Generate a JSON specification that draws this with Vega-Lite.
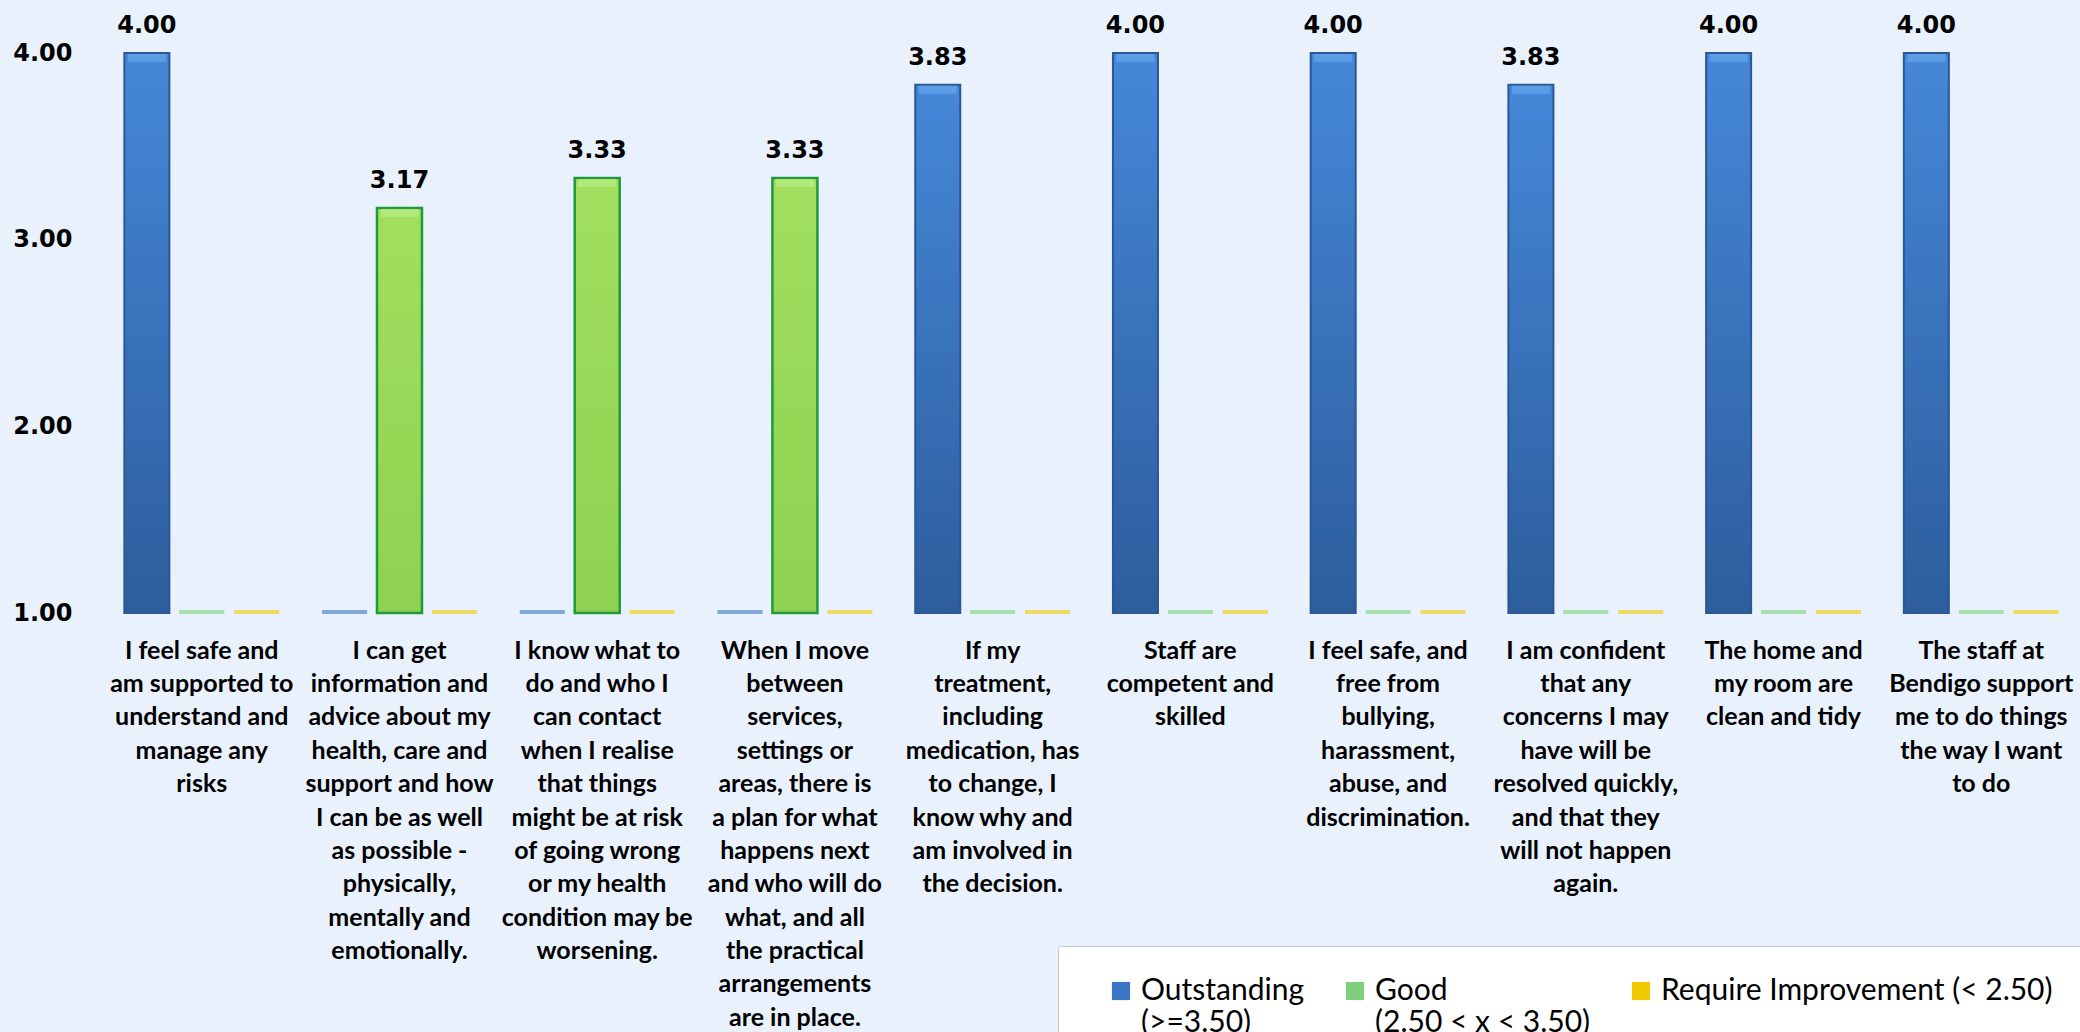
{
  "$schema": "https://vega.github.io/schema/vega-lite/v6.json",
  "width": 1977,
  "height": 560,
  "autosize": {"type": "none"},
  "padding": {"left": 103, "top": 53, "right": 0, "bottom": 419},
  "background": "#E9F2FC",
  "config": {"view": {"stroke": null}, "font": "Lato"},
  "data": {
    "values": [
      {"item": "I feel safe and\nam supported to\nunderstand and\nmanage any\nrisks", "series": "Outstanding (>=3.50)", "score": 4.00},
      {"item": "I feel safe and\nam supported to\nunderstand and\nmanage any\nrisks", "series": "Good (2.50 < x < 3.50)", "score": 0},
      {"item": "I feel safe and\nam supported to\nunderstand and\nmanage any\nrisks", "series": "Require Improvement (< 2.50)", "score": 0},
      {"item": "I can get\ninformation and\nadvice about my\nhealth, care and\nsupport and how\nI can be as well\nas possible -\nphysically,\nmentally and\nemotionally.", "series": "Outstanding (>=3.50)", "score": 0},
      {"item": "I can get\ninformation and\nadvice about my\nhealth, care and\nsupport and how\nI can be as well\nas possible -\nphysically,\nmentally and\nemotionally.", "series": "Good (2.50 < x < 3.50)", "score": 3.17},
      {"item": "I can get\ninformation and\nadvice about my\nhealth, care and\nsupport and how\nI can be as well\nas possible -\nphysically,\nmentally and\nemotionally.", "series": "Require Improvement (< 2.50)", "score": 0},
      {"item": "I know what to\ndo and who I\ncan contact\nwhen I realise\nthat things\nmight be at risk\nof going wrong\nor my health\ncondition may be\nworsening.", "series": "Outstanding (>=3.50)", "score": 0},
      {"item": "I know what to\ndo and who I\ncan contact\nwhen I realise\nthat things\nmight be at risk\nof going wrong\nor my health\ncondition may be\nworsening.", "series": "Good (2.50 < x < 3.50)", "score": 3.33},
      {"item": "I know what to\ndo and who I\ncan contact\nwhen I realise\nthat things\nmight be at risk\nof going wrong\nor my health\ncondition may be\nworsening.", "series": "Require Improvement (< 2.50)", "score": 0},
      {"item": "When I move\nbetween\nservices,\nsettings or\nareas, there is\na plan for what\nhappens next\nand who will do\nwhat, and all\nthe practical\narrangements\nare in place.", "series": "Outstanding (>=3.50)", "score": 0},
      {"item": "When I move\nbetween\nservices,\nsettings or\nareas, there is\na plan for what\nhappens next\nand who will do\nwhat, and all\nthe practical\narrangements\nare in place.", "series": "Good (2.50 < x < 3.50)", "score": 3.33},
      {"item": "When I move\nbetween\nservices,\nsettings or\nareas, there is\na plan for what\nhappens next\nand who will do\nwhat, and all\nthe practical\narrangements\nare in place.", "series": "Require Improvement (< 2.50)", "score": 0},
      {"item": "If my\ntreatment,\nincluding\nmedication, has\nto change, I\nknow why and\nam involved in\nthe decision.", "series": "Outstanding (>=3.50)", "score": 3.83},
      {"item": "If my\ntreatment,\nincluding\nmedication, has\nto change, I\nknow why and\nam involved in\nthe decision.", "series": "Good (2.50 < x < 3.50)", "score": 0},
      {"item": "If my\ntreatment,\nincluding\nmedication, has\nto change, I\nknow why and\nam involved in\nthe decision.", "series": "Require Improvement (< 2.50)", "score": 0},
      {"item": "Staff are\ncompetent and\nskilled", "series": "Outstanding (>=3.50)", "score": 4.00},
      {"item": "Staff are\ncompetent and\nskilled", "series": "Good (2.50 < x < 3.50)", "score": 0},
      {"item": "Staff are\ncompetent and\nskilled", "series": "Require Improvement (< 2.50)", "score": 0},
      {"item": "I feel safe, and\nfree from\nbullying,\nharassment,\nabuse, and\ndiscrimination.", "series": "Outstanding (>=3.50)", "score": 4.00},
      {"item": "I feel safe, and\nfree from\nbullying,\nharassment,\nabuse, and\ndiscrimination.", "series": "Good (2.50 < x < 3.50)", "score": 0},
      {"item": "I feel safe, and\nfree from\nbullying,\nharassment,\nabuse, and\ndiscrimination.", "series": "Require Improvement (< 2.50)", "score": 0},
      {"item": "I am confident\nthat any\nconcerns I may\nhave will be\nresolved quickly,\nand that they\nwill not happen\nagain.", "series": "Outstanding (>=3.50)", "score": 3.83},
      {"item": "I am confident\nthat any\nconcerns I may\nhave will be\nresolved quickly,\nand that they\nwill not happen\nagain.", "series": "Good (2.50 < x < 3.50)", "score": 0},
      {"item": "I am confident\nthat any\nconcerns I may\nhave will be\nresolved quickly,\nand that they\nwill not happen\nagain.", "series": "Require Improvement (< 2.50)", "score": 0},
      {"item": "The home and\nmy room are\nclean and tidy", "series": "Outstanding (>=3.50)", "score": 4.00},
      {"item": "The home and\nmy room are\nclean and tidy", "series": "Good (2.50 < x < 3.50)", "score": 0},
      {"item": "The home and\nmy room are\nclean and tidy", "series": "Require Improvement (< 2.50)", "score": 0},
      {"item": "The staff at\nBendigo support\nme to do things\nthe way I want\nto do", "series": "Outstanding (>=3.50)", "score": 4.00},
      {"item": "The staff at\nBendigo support\nme to do things\nthe way I want\nto do", "series": "Good (2.50 < x < 3.50)", "score": 0},
      {"item": "The staff at\nBendigo support\nme to do things\nthe way I want\nto do", "series": "Require Improvement (< 2.50)", "score": 0}
    ]
  },
  "encoding": {
    "x": {
      "field": "item",
      "type": "nominal",
      "sort": null,
      "scale": {"paddingInner": 0.167, "paddingOuter": 0.083},
      "axis": {
        "title": null,
        "labelExpr": "split(datum.label, '\\n')",
        "labelAngle": 0,
        "labelFont": "Lato",
        "labelFontSize": 25,
        "labelFontWeight": "bold",
        "labelColor": "#000000",
        "labelLimit": 0,
        "labelOverlap": false,
        "labelBound": false,
        "labelPadding": 25,
        "labelLineHeight": 33.4,
        "labelBaseline": "top",
        "domain": false,
        "ticks": false,
        "grid": false
      }
    },
    "xOffset": {
      "field": "series",
      "type": "nominal",
      "sort": null,
      "scale": {
        "domain": ["Outstanding (>=3.50)", "Good (2.50 < x < 3.50)", "Require Improvement (< 2.50)"],
        "paddingInner": 0.18,
        "paddingOuter": 0.09
      }
    }
  },
  "layer": [
    {
      "mark": {"type": "tick", "orient": "horizontal", "size": 45, "thickness": 4, "yOffset": -1, "opacity": 0.6},
      "encoding": {
        "y": {
          "datum": 1,
          "type": "quantitative",
          "scale": {"domain": [1, 4], "zero": false, "nice": false},
          "axis": {
            "title": null,
            "values": [1, 2, 3, 4],
            "format": ".2f",
            "labelFont": "DejaVu Sans",
            "labelFontSize": 24,
            "labelFontWeight": "bold",
            "labelColor": "#000000",
            "labelPadding": 31,
            "domain": false,
            "ticks": false,
            "gridColor": "#d9d9d9",
            "gridWidth": 2
          }
        },
        "color": {
          "field": "series",
          "type": "nominal",
          "scale": {
            "domain": ["Outstanding (>=3.50)", "Good (2.50 < x < 3.50)", "Require Improvement (< 2.50)"],
            "range": ["#3a76c4", "#7fd07a", "#f2c800"]
          },
          "legend": {
            "orient": "none",
            "legendX": 955,
            "legendY": 893,
            "direction": "horizontal",
            "columns": 3,
            "title": null,
            "labelExpr": "datum.label == 'Require Improvement (< 2.50)' ? [datum.label, ''] : [slice(datum.label, 0, indexof(datum.label, ' (')), slice(datum.label, indexof(datum.label, ' (') + 1)]",
            "labelFont": "Lato",
            "labelFontSize": 30,
            "labelColor": "#000000",
            "labelLimit": 0,
            "labelBaseline": "middle",
            "labelOffset": 5,
            "symbolType": "square",
            "symbolSize": 330,
            "symbolOffset": 18,
            "symbolOpacity": 1,
            "symbolStrokeWidth": 0,
            "columnPadding": 17,
            "padding": 30,
            "fillColor": "#ffffff",
            "strokeColor": "#c4c4c4",
            "cornerRadius": 3
          }
        }
      }
    },
    {
      "transform": [{"filter": "datum.series == 'Outstanding (>=3.50)' && datum.score > 0"}],
      "mark": {
        "type": "bar",
        "strokeWidth": 2,
        "stroke": "#2b5894",
        "color": {
          "gradient": "linear", "x1": 0, "y1": 0, "x2": 0, "y2": 1,
          "stops": [{"offset": 0, "color": "#4588d8"}, {"offset": 1, "color": "#2d5d9d"}]
        }
      },
      "encoding": {
        "y": {"field": "score", "type": "quantitative"},
        "y2": {"datum": 1}
      }
    },
    {
      "transform": [{"filter": "datum.series == 'Good (2.50 < x < 3.50)' && datum.score > 0"}],
      "mark": {
        "type": "bar",
        "strokeWidth": 2.5,
        "stroke": "#1f9a3c",
        "color": {
          "gradient": "linear", "x1": 0, "y1": 0, "x2": 0, "y2": 1,
          "stops": [{"offset": 0, "color": "#a2df5f"}, {"offset": 1, "color": "#8ed150"}]
        }
      },
      "encoding": {
        "y": {"field": "score", "type": "quantitative"},
        "y2": {"datum": 1}
      }
    },
    {
      "transform": [{"filter": "datum.score > 0"}],
      "mark": {"type": "tick", "orient": "horizontal", "size": 38, "thickness": 8, "yOffset": 5},
      "encoding": {
        "y": {"field": "score", "type": "quantitative"},
        "color": {
          "condition": {"test": "datum.series == 'Good (2.50 < x < 3.50)'", "value": "#b9ec86"},
          "value": "#66a6ee"
        }
      }
    },
    {
      "transform": [{"filter": "datum.score > 0"}],
      "mark": {"type": "text", "font": "DejaVu Sans", "fontSize": 24, "fontWeight": "bold", "color": "#000000", "baseline": "alphabetic", "dy": -20},
      "encoding": {
        "y": {"field": "score", "type": "quantitative"},
        "text": {"field": "score", "type": "quantitative", "format": ".2f"}
      }
    }
  ]
}
